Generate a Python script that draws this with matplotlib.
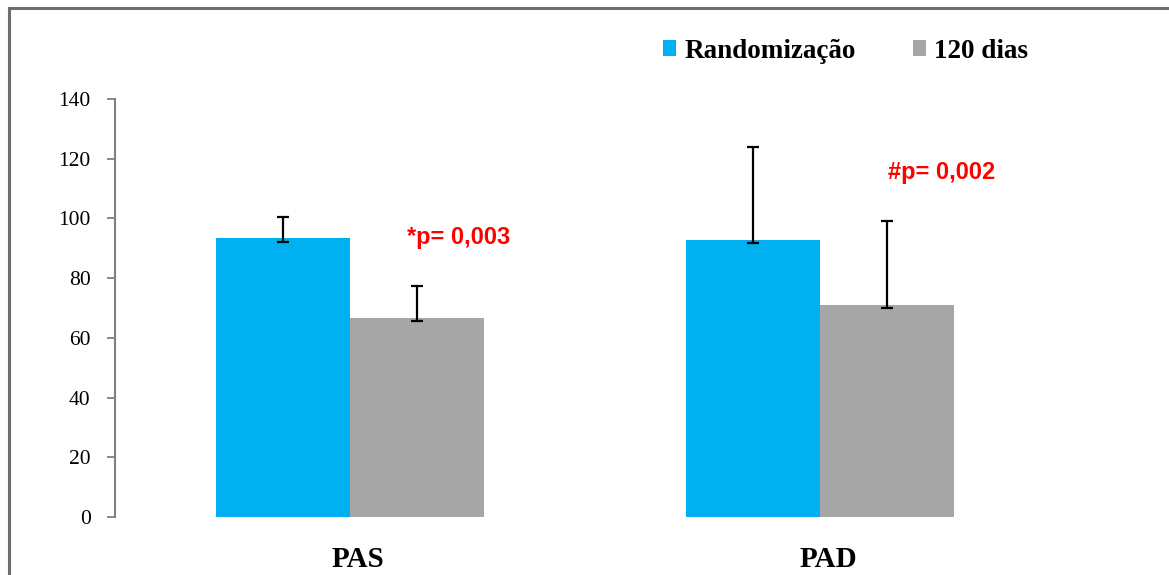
import matplotlib
matplotlib.use("Agg")
import matplotlib.pyplot as plt
import matplotlib.transforms as mtransforms
from matplotlib.patches import Patch
from matplotlib.lines import Line2D
import numpy as np

# Blood pressure (mmHg) at randomization and after 120 days
categories = ["PAS", "PAD"]
series_names = ["Randomização", "120 dias"]
randomizacao = [93.4, 92.7]
dias_120 = [66.5, 70.9]
rand_err_up = [7.0, 31.1]
rand_err_down = [1.2, 1.0]
d120_err_up = [11.0, 28.3]
d120_err_down = [1.0, 0.9]
p_labels = ["*p= 0,003", "#p= 0,002"]
p_label_pos = [(0.231, 93.6), (1.258, 115.4)]
y_ticks = [0, 20, 40, 60, 80, 100, 120, 140]

blue = "#00B0F0"
gray = "#A6A6A6"
axis_gray = "#808080"

fig = plt.figure(figsize=(11.69, 5.75), dpi=100)
ax = fig.add_axes([115 / 1169, 58 / 575, 940 / 1169, 418 / 575])

x = np.arange(len(categories))
w = 0.285
err_kw = dict(ecolor="black", elinewidth=1.6, capsize=4.5, capthick=1.6)
ax.bar(x - w / 2, randomizacao, w, color=blue, linewidth=0,
       yerr=[rand_err_down, rand_err_up], error_kw=err_kw, zorder=2)
ax.bar(x + w / 2, dias_120, w, color=gray, linewidth=0,
       yerr=[d120_err_down, d120_err_up], error_kw=err_kw, zorder=2)

for (px, py), txt in zip(p_label_pos, p_labels):
    ax.text(px, py, txt, color="#FF0000", fontsize=17, fontweight="bold",
            family="Liberation Sans", ha="center", va="center")

ax.set_xlim(-0.5, 1.5)
ax.set_ylim(0, 140)
ax.set_yticks(y_ticks)
ax.set_yticklabels([str(v) for v in y_ticks], family="Liberation Serif", fontsize=15.5)
ax.tick_params(axis="y", direction="out", length=5.5, width=1.3, color=axis_gray, pad=12)
ax.set_xticks(x)
ax.set_xticklabels(categories, family="Liberation Serif", fontsize=21, fontweight="bold")
ax.tick_params(axis="x", length=0, pad=21)
shift = mtransforms.ScaledTranslation(8 / 100, 0, fig.dpi_scale_trans)
for lab in ax.get_xticklabels():
    lab.set_transform(lab.get_transform() + shift)

for side in ["top", "right", "bottom"]:
    ax.spines[side].set_visible(False)
ax.spines["left"].set_color(axis_gray)
ax.spines["left"].set_linewidth(1.5)

handles = [Patch(facecolor=blue, edgecolor="none"), Patch(facecolor=gray, edgecolor="none")]
fig.legend(handles, series_names, loc="center left",
           bbox_to_anchor=(652 / 1169, 1 - 51 / 575), ncol=2, frameon=False,
           prop=dict(family="Liberation Serif", size=19.5, weight="bold"),
           handlelength=0.5, handleheight=0.5, handletextpad=0.3,
           columnspacing=2.1, borderaxespad=0)

# outer frame lines (left and top)
fig.add_artist(Line2D([8.5 / 1169, 8.5 / 1169], [0, 1 - 8 / 575], transform=fig.transFigure,
                      color="#6E6E6E", linewidth=2.2))
fig.add_artist(Line2D([8.5 / 1169, 1], [1 - 8 / 575, 1 - 8 / 575], transform=fig.transFigure,
                      color="#6E6E6E", linewidth=2.2))

fig.savefig("out.png", dpi=100)
